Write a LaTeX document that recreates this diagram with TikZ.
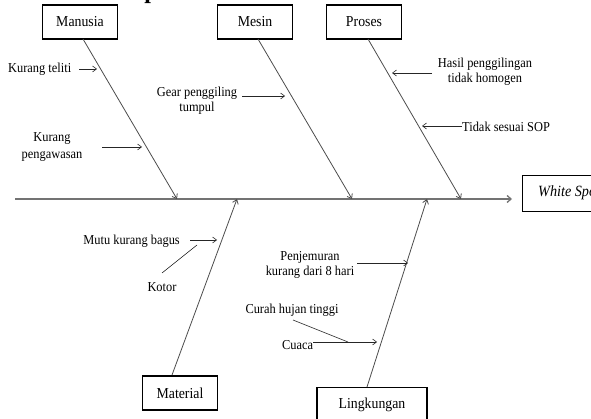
\documentclass[tikz,border=0pt]{standalone}
\usepackage{fontspec}
\setmainfont{Liberation Serif}
\usetikzlibrary{arrows.meta}
\newcommand\vstr[1]{\scalebox{1}[1.1]{#1}}
\newcommand\twol[2]{\vstr{\begin{tabular}{@{}c@{}}#1\\#2\end{tabular}}}
\begin{document}
\begin{tikzpicture}[x=1pt,y=-1pt,
  catbox/.style={draw=black,line width=1.4pt,minimum width=75pt,minimum height=34pt,inner sep=0pt,font=\fontsize{13.8}{14}\selectfont},
  lbl/.style={font=\fontsize{12.4}{14}\selectfont,inner sep=0pt,align=center},
  bone/.style={draw=black!70,line width=0.8pt,-{Straight Barb[length=4pt,width=6pt]}},
  sub/.style={draw=black!85,line width=0.6pt,-{Straight Barb[length=4pt,width=6pt]}},
  plain/.style={draw=black!85,line width=0.6pt}]
\useasboundingbox (0,0) rectangle (591,419);
% title fragment
\node[font=\fontsize{24}{24}\selectfont\bfseries,anchor=base,inner sep=0pt] (ttl) at (151,-1) {p};
% spine and effect
\node[draw=black,line width=1.4pt,minimum width=90pt,minimum height=36pt,anchor=north west,inner sep=0pt] (eff) at (522,175) {};
\node[font=\fontsize{14.2}{14}\selectfont\itshape,anchor=west,inner sep=0pt] (efft) at (538,193) {\vstr{White Spot}};
\coordinate (sp0) at (15,199);
\coordinate (sp1) at (512,199);
\draw[draw=black!55,line width=1.3pt,-{Straight Barb[length=4pt,width=7pt]}] (sp0) -- (sp1);
% category boxes
\node[catbox] (man) at (80,22) {\vstr{Manusia}};
\node[catbox] (mes) at (255,22) {\vstr{Mesin}};
\node[catbox] (pro) at (364,22) {\vstr{Proses}};
\node[catbox] (mat) at (180,393) {\vstr{Material}};
\node[catbox,minimum width=110pt,anchor=north] (lin) at (372,387) {};
\node[font=\fontsize{13.8}{14}\selectfont,inner sep=0pt] (lint) at (372,405) {\vstr{Lingkungan}};
% bone points
\coordinate (manb) at (83,39);   \coordinate (mane) at (177,199);
\coordinate (mesb) at (258,39);  \coordinate (mese) at (352,199);
\coordinate (prob) at (368,39);  \coordinate (proe) at (461,199);
\coordinate (matb) at (172,375); \coordinate (mate) at (237,199);
\coordinate (linb) at (367,387); \coordinate (line) at (427,199);
\draw[bone] (manb) -- (mane);
\draw[bone] (mesb) -- (mese);
\draw[bone] (prob) -- (proe);
\draw[bone] (matb) -- (mate);
\draw[bone] (linb) -- (line);
% Manusia causes
\node[lbl,anchor=west] (kt) at (8,69) {\vstr{Kurang teliti}};
\coordinate (kte) at (97,69);
\draw[sub] (79,69) -- (kte);
\node[lbl] (kp) at (52,147) {\vstr{\begin{tabular}{@{}c@{}}Kurang\\[2pt]pengawasan\end{tabular}}};
\coordinate (kpe) at (142,147);
\draw[sub] (102,147) -- (kpe);
% Mesin causes
\node[lbl] (gp) at (197,101) {\twol{Gear penggiling}{tumpul}};
\coordinate (gpe) at (285,96);
\draw[sub] (242,96) -- (gpe);
% Proses causes
\node[lbl] (hp) at (485,72) {\twol{Hasil penggilingan}{tidak homogen}};
\coordinate (hpe) at (392,73);
\draw[sub] (432,73) -- (hpe);
\node[lbl,anchor=west] (ts) at (462,127) {\vstr{Tidak sesuai SOP}};
\coordinate (tse) at (422,126);
\draw[sub] (ts.west |- tse) -- (tse);
% Material causes
\node[lbl,anchor=east] (mk) at (180,241) {\vstr{Mutu kurang bagus}};
\coordinate (mke) at (217,240);
\draw[sub] (190,240) -- (mke);
\node[lbl] (kot) at (162,287) {\vstr{Kotor}};
\coordinate (kots) at (162,273);
\coordinate (kote) at (197,245);
\draw[plain] (kots) -- (kote);
% Lingkungan causes
\node[lbl] (pj) at (310,265) {\twol{Penjemuran}{kurang dari 8 hari}};
\coordinate (pje) at (408,263);
\draw[sub] (357,263) -- (pje);
\node[lbl] (ch) at (292,310) {\vstr{Curah hujan tinggi}};
\node[lbl,anchor=west] (cu) at (282,345) {\vstr{Cuaca}};
\coordinate (cuj) at (348,342);
\coordinate (cue) at (377,342);
\draw[plain] (293,320) -- (cuj);
\draw[sub] (cu.east |- cue) -- (cue);
\end{tikzpicture}
\end{document}
